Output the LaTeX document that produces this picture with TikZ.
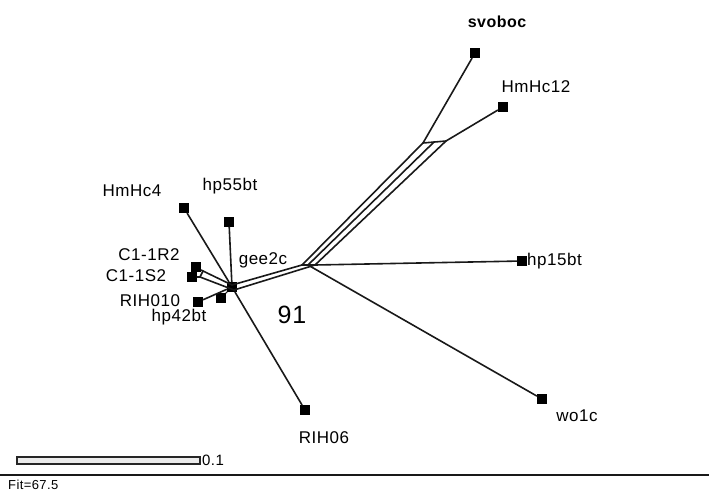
\documentclass[tikz,border=0pt]{standalone}
\usepackage{fontspec}
\setmainfont{Liberation Sans}[LetterSpace=3]
\begin{document}
\begin{tikzpicture}[x=1pt,y=-1pt,
  leaf/.style={rectangle,fill=black,draw=none,minimum size=10pt,inner sep=0pt},
  lbl/.style={inner sep=0pt,font=\fontsize{17}{17}\selectfont},
  edge/.style={line width=1.6pt,draw=black!90,line cap=round}]
\useasboundingbox (0,0) rectangle (709,493);
% markers
\node[leaf] (hub) at (232,287) {};
\node[leaf] (hmhc4m) at (184,208) {};
\node[leaf] (hp55m) at (229,222) {};
\node[leaf] (c1rm) at (196,267) {};
\node[leaf] (c1sm) at (192,277) {};
\node[leaf] (rih010m) at (198,302) {};
\node[leaf] (hp42m) at (221,298) {};
\node[leaf] (rih06m) at (305,410) {};
\node[leaf] (hp15m) at (522,261) {};
\node[leaf] (wo1cm) at (542,399) {};
\node[leaf] (svobocm) at (475,53) {};
\node[leaf] (hmhc12m) at (503,107) {};
% junctions
\coordinate (h1) at (232,285);
\coordinate (h2) at (234,290);
\coordinate (cr) at (203,271);
\coordinate (cs) at (200,277);
\coordinate (b1) at (302,265);
\coordinate (b2) at (308,265);
\coordinate (b3) at (315,265);
\coordinate (t1) at (423,143);
\coordinate (t2) at (434,142);
\coordinate (t3) at (446,141);
% edges
\draw[edge] (hub) -- (hmhc4m);
\draw[edge] (hub) -- (hp55m);
\draw[edge] (hub) -- (rih010m);
\draw[edge] (hub) -- (hp42m);
\draw[edge] (hub) -- (rih06m);
\draw[edge] (c1rm) -- (cr) -- (h1);
\draw[edge] (c1sm) -- (cs) -- (h2);
\draw[edge] (cr) -- (cs);
\draw[edge] (h1) -- (b1);
\draw[edge] (h2) -- (b3);
\draw[edge] (b1) -- (b3);
\draw[edge] (b1) -- (t1);
\draw[edge] (b2) -- (t2);
\draw[edge] (b3) -- (t3);
\draw[edge] (t1) -- (t3);
\draw[edge] (t1) -- (svobocm);
\draw[edge] (t3) -- (hmhc12m);
\draw[edge] (b3) -- (hp15m);
\draw[edge] (b2) -- (wo1cm);
% labels
\node[lbl,font=\fontsize{16}{16}\selectfont\bfseries] (svoboc) at (497,22) {svoboc};
\node[lbl] (hmhc12) at (536,87) {HmHc12};
\node[lbl] (hmhc4) at (132,191) {HmHc4};
\node[lbl] (hp55bt) at (230,186) {hp55bt};
\node[lbl] (c1r2) at (149,255) {C1-1R2};
\node[lbl] (c1s2) at (136,276) {C1-1S2};
\node[lbl] (gee2c) at (263,260) {gee2c};
\node[lbl] (rih010) at (150,301) {RIH010};
\node[lbl] (hp42bt) at (179,317) {hp42bt};
\node[lbl,font=\fontsize{25}{25}\selectfont] (n91) at (292,315) {91};
\node[lbl,anchor=west] (hp15bt) at (527,261) {hp15bt};
\node[lbl] (wo1c) at (577,416) {wo1c};
\node[lbl] (rih06) at (324,438) {RIH06};
% scale bar and footer
\draw[line width=1.2pt,draw=black!85,fill=black!8] (17,457) rectangle (200,464);
\node[lbl,anchor=west,font=\fontsize{15}{15}\selectfont] (scale) at (202,460) {0.1};
\draw[line width=1.8pt,draw=black!90] (0,475) -- (709,475);
\node[lbl,anchor=west,font=\fontsize{13}{13}\selectfont] (fit) at (8,485) {Fit=67.5};
\end{tikzpicture}
\end{document}
